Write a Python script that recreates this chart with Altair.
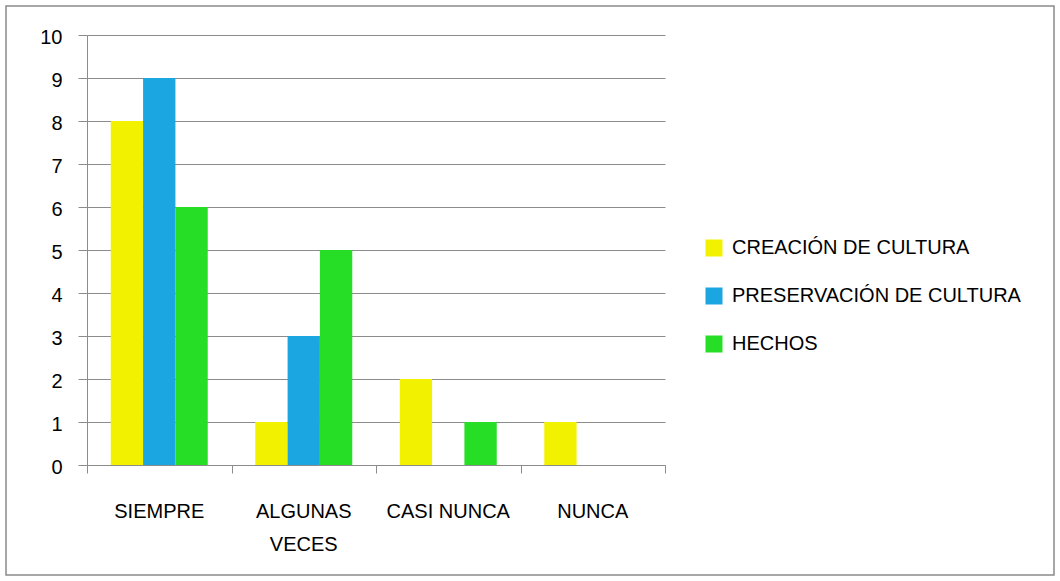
import altair as alt
import pandas as pd

# Survey answers per frequency category, one list per series
categories = ["SIEMPRE", "ALGUNAS VECES", "CASI NUNCA", "NUNCA"]
category_labels = ["SIEMPRE", "ALGUNAS\nVECES", "CASI NUNCA", "NUNCA"]
series = ["CREACIÓN DE CULTURA", "PRESERVACIÓN DE CULTURA", "HECHOS"]
creacion = [8, 1, 2, 1]
preservacion = [9, 3, 0, 0]
hechos = [6, 5, 1, 0]
colors = ["#F2F200", "#1BA6E2", "#25DE25"]
y_ticks = list(range(0, 11))

rows = []
for name, values in zip(series, [creacion, preservacion, hechos]):
    for cat, v in zip(categories, values):
        rows.append({"categoria": cat, "serie": name, "valor": v})
df = pd.DataFrame(rows)
labels_df = pd.DataFrame({"categoria": categories, "etiqueta": category_labels})

font = "Liberation Sans"
line_gray = "#8c8c8c"

x_enc = alt.X(
    "categoria:N",
    sort=categories,
    scale=alt.Scale(paddingInner=0, paddingOuter=0),
    axis=alt.Axis(
        title=None,
        labels=False,
        tickBand="extent",
        domainColor=line_gray,
        tickColor=line_gray,
        tickSize=8,
        grid=False,
    ),
)

bars = alt.Chart(df).mark_bar().encode(
    x=x_enc,
    xOffset=alt.XOffset(
        "serie:N", sort=series, scale=alt.Scale(paddingInner=0, paddingOuter=0.735)
    ),
    y=alt.Y(
        "valor:Q",
        scale=alt.Scale(domain=[0, 10], nice=False),
        axis=alt.Axis(
            title=None,
            values=y_ticks,
            grid=True,
            gridColor=line_gray,
            domainColor=line_gray,
            tickColor=line_gray,
            tickSize=9,
            labelPadding=16,
            labelOffset=2,
            labelFont=font,
            labelFontSize=20,
            labelColor="#000000",
        ),
    ),
    color=alt.Color(
        "serie:N",
        sort=series,
        scale=alt.Scale(domain=series, range=colors),
        legend=alt.Legend(
            title=None,
            orient="none",
            legendX=617,
            legendY=203,
            symbolType="square",
            symbolSize=289,
            labelFont=font,
            labelFontSize=20,
            labelColor="#000000",
            labelOffset=8,
            labelLimit=500,
            rowPadding=28,
        ),
    ),
)

# Category names under the axis, split over two lines where needed
cat_text = alt.Chart(labels_df).mark_text(
    font=font,
    fontSize=20,
    color="#000000",
    baseline="top",
    align="center",
    lineBreak="\n",
    lineHeight=33,
).encode(
    x=x_enc,
    y=alt.value(467),
    text="etiqueta:N",
)

# Thin grey frame around the whole figure
frame = alt.Chart(pd.DataFrame({"k": [0]})).mark_rect(
    filled=False, stroke="#8a8a8a", strokeWidth=1.5, clip=False
).encode(
    x=alt.value(-81), x2=alt.value(967), y=alt.value(-29), y2=alt.value(540)
)

chart = alt.layer(bars, cat_text, frame).properties(
    width=578,
    height=430,
    autosize=alt.AutoSizeParams(type="none"),
    padding={"left": 87, "top": 35, "right": 395, "bottom": 116},
    background="#ffffff",
).configure_view(stroke=None)

chart.save("out.html", embed_options={"renderer": "svg", "actions": False})
